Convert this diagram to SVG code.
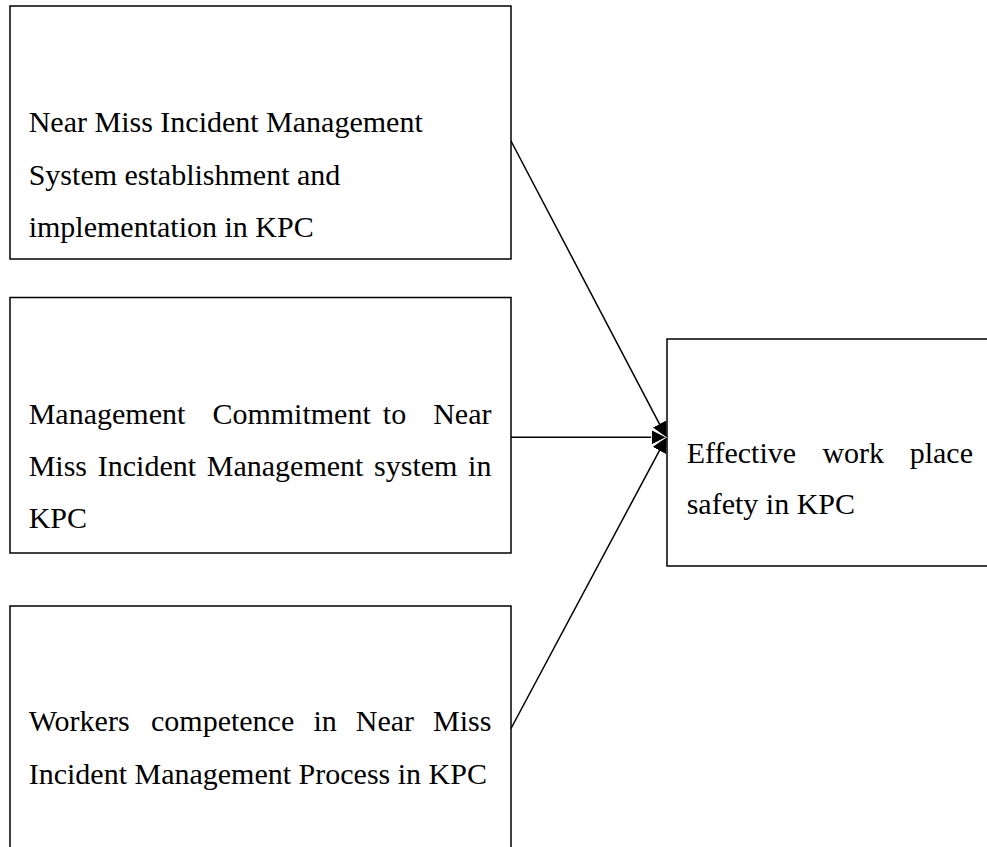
<svg xmlns="http://www.w3.org/2000/svg" width="987" height="847" viewBox="0 0 987 847">
  <style>
    .box { fill: #ffffff; stroke: #000000; stroke-width: 1.5; }
    .lbl { font-family: "Liberation Serif", "Times New Roman", serif; font-size: 30px; fill: #000000; }
    .conn { stroke: #000000; stroke-width: 1.5; fill: none; }
  </style>
  <defs>
    <marker id="arrow" viewBox="0 0 10 10" refX="10" refY="5" markerUnits="userSpaceOnUse" markerWidth="15" markerHeight="15" orient="auto">
      <path d="M0,0 L10,5 L0,10 z" fill="#000000"/>
    </marker>
    <marker id="arrowW" viewBox="-1 -1 12 12" refX="10" refY="5" markerUnits="userSpaceOnUse" markerWidth="18" markerHeight="18" orient="auto">
      <path d="M0,0 L10,5 L0,10 z" fill="#000000" stroke="#ffffff" stroke-width="0.6"/>
    </marker>
  </defs>

  <rect width="987" height="847" fill="#ffffff"/>

  <g id="node-system">
    <rect class="box" x="10" y="6" width="501" height="253"/>
    <text class="lbl" x="28.7" y="132">Near Miss Incident Management</text>
    <text class="lbl" x="28.7" y="184.5">System establishment and</text>
    <text class="lbl" x="28.7" y="236.5">implementation in KPC</text>
  </g>

  <g id="node-commitment">
    <rect class="box" x="10" y="297.5" width="501" height="255.5"/>
    <text class="lbl" y="423.8"><tspan x="28.7">Management</tspan><tspan x="212.4">Commitment</tspan><tspan x="382.8">to</tspan><tspan x="433.2">Near</tspan></text>
    <text class="lbl" y="476"><tspan x="28.7">Miss</tspan><tspan x="97.8">Incident</tspan><tspan x="206.8">Management</tspan><tspan x="374.1">system</tspan><tspan x="468.1">in</tspan></text>
    <text class="lbl" x="28.7" y="528.3">KPC</text>
  </g>

  <g id="node-competence">
    <rect class="box" x="10" y="606" width="501" height="260"/>
    <text class="lbl" y="731"><tspan x="28.7">Workers</tspan><tspan x="151">competence</tspan><tspan x="313.4">in</tspan><tspan x="355.8">Near</tspan><tspan x="433.1">Miss</tspan></text>
    <text class="lbl" x="28.7" y="783.5">Incident Management Process in KPC</text>
  </g>

  <g id="node-safety">
    <rect class="box" x="667" y="339" width="340" height="227"/>
    <text class="lbl" y="462.7"><tspan x="686.7">Effective</tspan><tspan x="822.4">work</tspan><tspan x="909.7">place</tspan></text>
    <text class="lbl" x="686.7" y="514">safety in KPC</text>
  </g>

  <g id="connectors">
    <line class="conn" x1="511" y1="141" x2="666.5" y2="437.3" marker-end="url(#arrow)"/>
    <line class="conn" x1="511" y1="728.5" x2="666.5" y2="437.3" marker-end="url(#arrow)"/>
    <line class="conn" x1="511" y1="437.3" x2="666.5" y2="437.3" marker-end="url(#arrowW)"/>
  </g>
</svg>
